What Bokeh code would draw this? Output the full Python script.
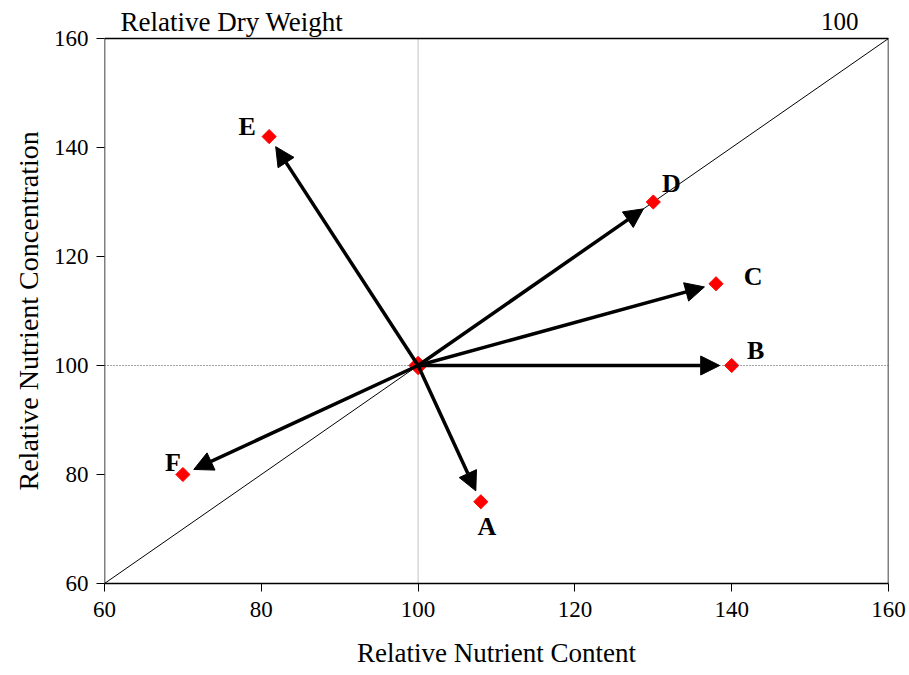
import math
from bokeh.plotting import figure
from bokeh.models import Arrow, NormalHead, ColumnDataSource, Span, Label, FixedTicker, Title
from bokeh.embed import file_html
from bokeh.resources import INLINE

# data
labels = ["A", "B", "C", "D", "E", "F"]
content = [108, 140, 138, 130, 81, 70]        # Relative Nutrient Content
concentration = [75, 100, 115, 130, 142, 80]  # Relative Nutrient Concentration
origin_x = 100
origin_y = 100
ticks = [60, 80, 100, 120, 140, 160]
y_ticks = [60, 80, 100, 120, 140, 160]
top_left_text = "Relative Dry Weight"
top_right_text = "100"

FONT = "Liberation Serif"
W, H = 909, 675
ML, MR, MT, MB = 104, 21, 4, 92
PLOT_TOP = 38                      # pixel row of the 160 line
FW = W - ML - MR
SPAN_PX = H - MB - PLOT_TOP        # pixels covering 60..160 vertically
sx = FW / (ticks[-1] - ticks[0])
sy = SPAN_PX / (y_ticks[-1] - y_ticks[0])
y_top = y_ticks[-1] + (PLOT_TOP - MT) / sy

p = figure(width=W, height=H, x_range=(ticks[0], ticks[-1]), y_range=(y_ticks[0], y_top),
           output_backend="svg", toolbar_location=None,
           min_border_left=ML, min_border_right=MR, min_border_top=MT, min_border_bottom=MB)
p.background_fill_color = "white"
p.border_fill_color = "white"
p.outline_line_color = None
p.xgrid.visible = False
p.ygrid.visible = False

for ax in (p.xaxis[0], p.yaxis[0]):
    ax.axis_line_color = "black"
    ax.axis_line_width = 1.5
    ax.major_tick_line_color = "black"
    ax.major_tick_line_width = 1
    ax.major_tick_out = 8
    ax.major_tick_in = 0
    ax.minor_tick_line_color = None
    ax.major_label_text_font = FONT
    ax.major_label_text_font_size = "23px"
    ax.major_label_text_color = "black"
    ax.axis_label_text_font = FONT
    ax.axis_label_text_font_size = "27px"
    ax.axis_label_text_font_style = "normal"
    ax.axis_label_text_color = "black"
p.yaxis.axis_line_color = None

p.xaxis.ticker = FixedTicker(ticks=ticks)
p.yaxis.ticker = FixedTicker(ticks=y_ticks)
p.xaxis.axis_label = "Relative Nutrient Content"
p.xaxis.major_label_standoff = 10
p.xaxis.axis_label_standoff = 18
p.yaxis.major_label_standoff = 8

# y label as a left-side title so it can be centred on the 60..160 box
p.add_layout(Title(text="Relative Nutrient Concentration", align="left", offset=93,
                   text_font=FONT, text_font_size="28px", text_font_style="normal",
                   text_color="black", standoff=14), "left")

x0, x1 = ticks[0], ticks[-1]
y0, y1 = y_ticks[0], y_ticks[-1]

# reference lines
p.segment([origin_x], [y0], [origin_x], [y1], line_color="#888888", line_width=1, line_dash="1 1")
p.add_layout(Span(location=origin_y, dimension="width", line_color="#444444",
                  line_width=1, line_dash="1 2"))
p.line([x0, x1], [y0, y1], line_color="black", line_width=1)

# plot box (left axis line, top and right borders)
p.line([x0, x0, x1, x1], [y0, y1, y1, y0], line_color="black", line_width=1.5)

# arrows (shortened by a fixed number of pixels before each point)
shrink_px = 12.0
xs0, ys0, xs1, ys1 = [], [], [], []
for cx, cy in zip(content, concentration):
    dxp = (cx - origin_x) * sx
    dyp = (cy - origin_y) * sy
    L = (dxp ** 2 + dyp ** 2) ** 0.5
    f = (L - shrink_px) / L
    xs0.append(origin_x)
    ys0.append(origin_y)
    xs1.append(origin_x + (cx - origin_x) * f)
    ys1.append(origin_y + (cy - origin_y) * f)
asrc = ColumnDataSource(dict(x0=xs0, y0=ys0, x1=xs1, y1=ys1))
p.add_layout(Arrow(end=NormalHead(size=19, fill_color="black", line_color="black", line_width=1),
                   x_start="x0", y_start="y0", x_end="x1", y_end="y1",
                   source=asrc, line_color="black", line_width=3.5))

# points (square diamonds)
p.scatter([origin_x], [origin_y], marker="square", angle=math.pi / 4, size=13,
          fill_color="red", line_color="red")
p.scatter(content, concentration, marker="square", angle=math.pi / 4, size=10,
          fill_color="red", line_color="red")

# point labels
lab_dx = [6, 24, 37, 18, -22, -10]
lab_dy = [-25, 15, 7, 19, 10, 12]
for t, cx, cy, ox, oy in zip(labels, content, concentration, lab_dx, lab_dy):
    p.add_layout(Label(x=cx, y=cy, x_offset=ox, y_offset=oy, text=t,
                       text_font=FONT, text_font_size="26px", text_font_style="bold",
                       text_align="center", text_baseline="middle", text_color="black"))

# top texts (in the band above the 160 line)
p.add_layout(Label(x=x0, y=y1, x_offset=16, y_offset=17, text=top_left_text,
                   text_font=FONT, text_font_size="27px",
                   text_align="left", text_baseline="middle", text_color="black"))
p.add_layout(Label(x=x1, y=y1, x_offset=-30, y_offset=17, text=top_right_text,
                   text_font=FONT, text_font_size="25px",
                   text_align="right", text_baseline="middle", text_color="black"))

open("out.html", "w").write(file_html(p, INLINE))
